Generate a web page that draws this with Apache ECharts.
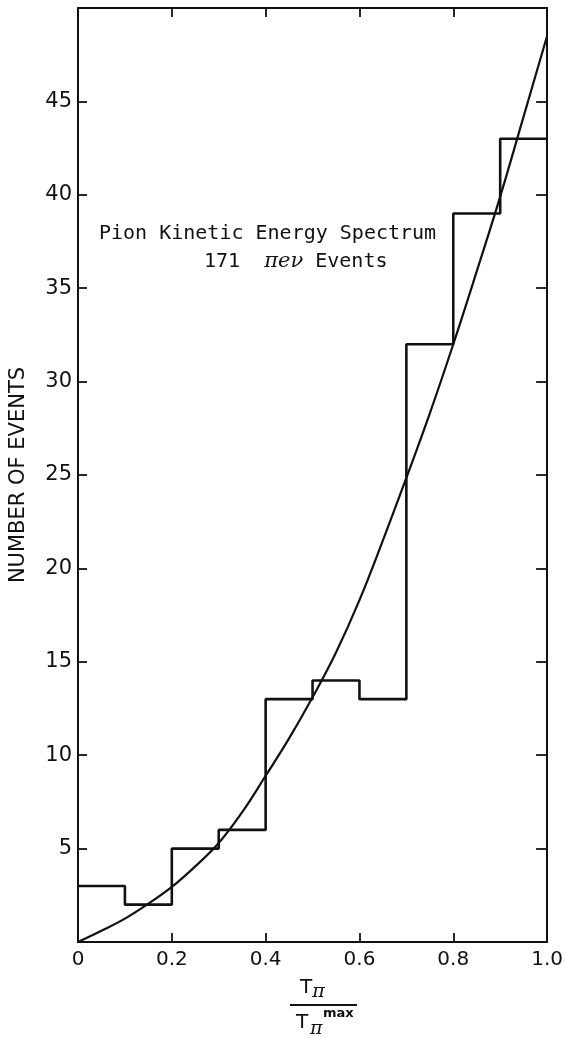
<!DOCTYPE html>
<html>
<head>
<meta charset="utf-8">
<script src="https://cdn.jsdelivr.net/npm/echarts@6/dist/echarts.min.js"></script>
<style>
html,body{margin:0;padding:0;background:#fff;}
#main{width:566px;height:1038px;}
</style>
</head>
<body>
<div id="main"></div>
<script>
// Histogram bins: left edges and counts
var binEdges = [0, 0.1, 0.2, 0.3, 0.4, 0.5, 0.6, 0.7, 0.8, 0.9, 1.0];
var binCounts = [3, 2, 5, 6, 13, 14, 13, 32, 39, 43];
// Theoretical curve
var curveX = [0, 0.05, 0.1, 0.15, 0.2, 0.25, 0.3, 0.35, 0.4, 0.45, 0.5, 0.55, 0.6, 0.65, 0.7, 0.75, 0.8, 0.85, 0.9, 0.95, 1.0];
var curveY = [0, 0.6, 1.25, 2.05, 2.95, 4.05, 5.3, 6.95, 8.9, 10.9, 13.1, 15.5, 18.3, 21.5, 24.85, 28.3, 32.0, 35.9, 39.9, 44.2, 48.5];
var xTickLabels = {0: '0', 0.2: '0.2', 0.4: '0.4', 0.6: '0.6', 0.8: '0.8', 1: '1.0'};

var histData = [];
for (var i = 0; i < binCounts.length; i++) histData.push([binEdges[i], binCounts[i]]);
histData.push([binEdges[binEdges.length - 1], binCounts[binCounts.length - 1]]);
var curveData = curveX.map(function (x, i) { return [x, curveY[i]]; });

var FONT = 'DejaVu Sans';
var MONO = 'DejaVu Sans Mono';
var INK = '#111';
var chart = echarts.init(document.getElementById('main'));
var axisLine = {show: true, onZero: false, lineStyle: {color: INK, width: 2}};
var tick = function (len) { return {show: true, inside: true, length: len, lineStyle: {color: INK, width: 1.8}}; };
var option = {
  animation: false,
  backgroundColor: '#fff',
  grid: {left: 77, right: 14, top: 8, bottom: 96},
  xAxis: [{
    type: 'value', min: 0, max: 1, interval: 0.2, position: 'bottom',
    axisLine: axisLine, axisTick: tick(9),
    axisLabel: {color: INK, fontFamily: FONT, fontSize: 20, margin: 8,
      formatter: function (v) { var k = Math.round(v * 10) / 10; return xTickLabels[k] !== undefined ? xTickLabels[k] : ''; }},
    splitLine: {show: false}
  }, {
    type: 'value', min: 0, max: 1, interval: 0.2, position: 'top',
    axisLine: axisLine, axisTick: tick(9),
    axisLabel: {show: false}, splitLine: {show: false}
  }],
  yAxis: [{
    type: 'value', min: 0, max: 50, interval: 5, position: 'left',
    name: 'NUMBER OF EVENTS', nameLocation: 'middle', nameGap: 49, nameRotate: 90,
    nameTextStyle: {color: INK, fontFamily: FONT, fontSize: 21},
    axisLine: axisLine, axisTick: tick(9),
    axisLabel: {color: INK, fontFamily: FONT, fontSize: 21, margin: 6,
      formatter: function (v) { return (v === 0 || v === 50) ? '' : String(v); }},
    splitLine: {show: false}
  }, {
    type: 'value', min: 0, max: 50, interval: 5, position: 'right',
    axisLine: axisLine, axisTick: tick(11),
    axisLabel: {show: false}, splitLine: {show: false}
  }],
  series: [{
    type: 'line', step: 'end', data: histData, showSymbol: false, symbol: 'none',
    lineStyle: {color: INK, width: 2.6}, z: 3
  }, {
    type: 'line', smooth: 0.4, data: curveData, showSymbol: false, symbol: 'none',
    lineStyle: {color: INK, width: 2.2}, z: 4
  }],
  graphic: [
    {type: 'text', left: 99, top: 224, style: {text: 'Pion Kinetic Energy Spectrum', fontFamily: MONO, fontSize: 20, fill: INK}},
    {type: 'text', left: 204, top: 251, style: {
      text: '{n|171  }{g|πeν}{n| Events}',
      rich: {
        n: {fontFamily: MONO, fontSize: 20, fill: INK},
        g: {fontFamily: 'DejaVu Serif', fontStyle: 'italic', fontSize: 21, fill: INK}
      }}},
    {type: 'text', left: 300, top: 978, style: {
      text: '{t|T}{p|π}', rich: {
        t: {fontFamily: FONT, fontSize: 20, fill: INK},
        p: {fontFamily: 'DejaVu Serif', fontStyle: 'italic', fontSize: 19, fill: INK, padding: [8, 0, 0, 0]}
      }}},
    {type: 'line', shape: {x1: 290, y1: 1005, x2: 357, y2: 1005}, style: {stroke: INK, lineWidth: 2}},
    {type: 'text', left: 296, top: 1013, style: {text: 'T', fontFamily: FONT, fontSize: 20, fill: INK}},
    {type: 'text', left: 310, top: 1020, style: {text: 'π', fontFamily: 'DejaVu Serif', fontStyle: 'italic', fontSize: 19, fill: INK}},
    {type: 'text', left: 323, top: 1007, style: {text: 'max', fontFamily: FONT, fontSize: 13, fontWeight: 'bold', fill: INK}}
  ]
};
chart.setOption(option);
</script>
</body>
</html>
